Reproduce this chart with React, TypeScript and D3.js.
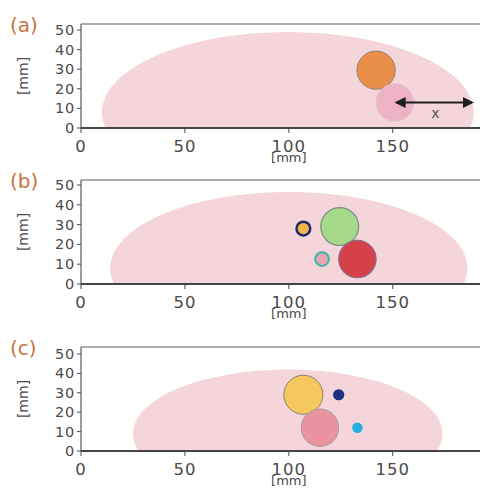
import React from "react";
import * as d3 from "d3";

// tumour phantom cross-sections, all values in mm
const panelLabels = ["(a)", "(b)", "(c)"];
const xTicks = [0, 50, 100, 150];
const yTicks = [0, 10, 20, 30, 40, 50];

// breast outline: [cx, cy, rx, ry]
const outlines = [
	[99.5, 8, 89.5, 41],
	[100, 8, 86, 38.5],
	[99.5, 9, 74.5, 33],
];

// inclusions: [x, y, r, kind]
const inclusionsA = [
	[142, 29.5, 9.2, "orange"],
	[151, 13, 9, "palePink"],
];
const inclusionsB = [
	[107, 28, 3.3, "yellowRing"],
	[124.5, 29, 9.1, "green"],
	[116, 12.6, 3.3, "pinkRing"],
	[133, 12.6, 9, "red"],
];
const inclusionsC = [
	[107, 29, 9.4, "yellow"],
	[124, 29, 2.7, "navy"],
	[115, 12, 9, "pink"],
	[133, 12, 2.5, "cyan"],
];
const inclusions = [inclusionsA, inclusionsB, inclusionsC];

// distance arrow in panel (a): [x1, x2, y]
const arrowA = [151, 189, 13];

const kindStyle: Record<string, { fill: string; stroke: string; sw: number }> = {
	orange: { fill: "#E98F48", stroke: "#8d7f78", sw: 1 },
	palePink: { fill: "#EDB2C6", stroke: "#dcc4cc", sw: 1 },
	yellowRing: { fill: "#F2B64A", stroke: "#1f2a6c", sw: 2.5 },
	green: { fill: "#A7D98A", stroke: "#7d8c84", sw: 1.2 },
	pinkRing: { fill: "#E9A3B3", stroke: "#3fb6a6", sw: 2 },
	red: { fill: "#D6404B", stroke: "#8b6c84", sw: 1.2 },
	yellow: { fill: "#F4C75F", stroke: "#8c8274", sw: 1 },
	navy: { fill: "#1F2F82", stroke: "none", sw: 0 },
	pink: { fill: "#E9939F", stroke: "#a69a9a", sw: 1 },
	cyan: { fill: "#21AEE0", stroke: "none", sw: 0 },
};

// layout: top of frame and y-pixel of 0 / 50 mm for each panel
const panelY = [
	{ top: 24, y0: 128, y50: 30 },
	{ top: 180, y0: 284, y50: 185 },
	{ top: 347, y0: 451, y50: 354 },
];

const font = "DejaVu Sans, sans-serif";
const ink = "#4a4a4a";

const x = d3.scaleLinear().domain([0, 192]).range([81, 480]);

const Panel = ({ i }: { i: number }) => {
	const p = panelY[i];
	const y = d3.scaleLinear().domain([0, 50]).range([p.y0, p.y50]);
	const [cx, cy, rx, ry] = outlines[i];
	const left = x(0);
	const right = x(192);
	return (
		<g>
			<defs>
				<clipPath id={`clip${i}`}>
					<rect x={left} y={p.top} width={right - left} height={p.y0 - p.top} />
				</clipPath>
				<marker id={`head${i}`} viewBox="0 0 10 10" refX="8" refY="5" markerWidth="5" markerHeight="5" orient="auto-start-reverse">
					<path d="M0,0 L10,5 L0,10 z" fill="#1e1e1e" />
				</marker>
			</defs>
			<g clipPath={`url(#clip${i})`}>
				<ellipse
					cx={x(cx)}
					cy={y(cy)}
					rx={x(cx + rx) - x(cx)}
					ry={y(cy) - y(cy + ry)}
					fill="#F4D5DA"
				/>
				{inclusions[i].map((c, k) => {
					const s = kindStyle[c[3] as string];
					return (
						<circle
							key={k}
							cx={x(c[0] as number)}
							cy={y(c[1] as number)}
							r={x(c[2] as number) - x(0)}
							fill={s.fill}
							stroke={s.stroke}
							strokeWidth={s.sw}
						/>
					);
				})}
			</g>
			{i === 0 && (
				<g>
					<line
						x1={x(arrowA[0]) + 2}
						x2={x(arrowA[1]) - 2}
						y1={y(arrowA[2])}
						y2={y(arrowA[2])}
						stroke="#1e1e1e"
						strokeWidth={2.2}
						markerStart={`url(#head${i})`}
						markerEnd={`url(#head${i})`}
					/>
					<text x={x((arrowA[0] + arrowA[1]) / 2) + 1} y={y(arrowA[2]) + 15} fontFamily={font} fontSize={14} fill="#555" textAnchor="middle">x</text>
				</g>
			)}
			{/* frame */}
			<line x1={left} x2={right} y1={p.top} y2={p.top} stroke="#5a5a5a" strokeWidth={1.2} />
			<line x1={left} x2={left} y1={p.top} y2={p.y0} stroke="#5a5a5a" strokeWidth={1.2} />
			<line x1={left} x2={right} y1={p.y0} y2={p.y0} stroke="#444" strokeWidth={1.8} />
			{yTicks.map((t) => (
				<g key={t}>
					<line x1={left - 4} x2={left} y1={y(t)} y2={y(t)} stroke={ink} strokeWidth={1} />
					<text x={left - 6} y={y(t) + 5} textAnchor="end" fontFamily={font} fontSize={14.5} letterSpacing={0.8} fill={ink}>{t}</text>
				</g>
			))}
			{xTicks.map((t) => (
				<g key={t}>
					<line x1={x(t)} x2={x(t)} y1={p.y0} y2={p.y0 + 5} stroke={ink} strokeWidth={1} />
					<text x={x(t)} y={p.y0 + 24} textAnchor="middle" fontFamily={font} fontSize={16.5} letterSpacing={1} fill={ink}>{t}</text>
				</g>
			))}
			<text x={x(100)} y={p.y0 + 34} textAnchor="middle" fontFamily={font} fontSize={13} fill={ink}>[mm]</text>
			<text transform={`translate(28,${(p.top + p.y0) / 2}) rotate(-90)`} textAnchor="middle" fontFamily={font} fontSize={14} fill={ink}>[mm]</text>
			<text x={10} y={p.top + 8} fontFamily={font} fontSize={20} fill="#C8733F">{panelLabels[i]}</text>
		</g>
	);
};

export default function App() {
	return (
		<svg width={480} height={488} style={{ position: "absolute", left: 0, top: 0, background: "#fff" }}>
			{panelLabels.map((_, i) => (
				<Panel key={i} i={i} />
			))}
		</svg>
	);
}
